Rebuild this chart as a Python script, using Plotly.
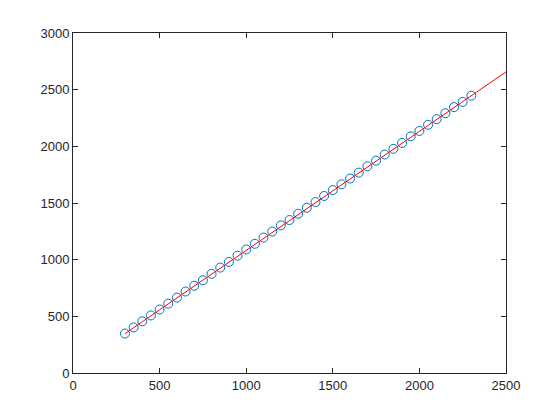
import plotly.graph_objects as go

# Measured data points
x_data = [300, 350, 400, 450, 500, 550, 600, 650, 700, 750,
          800, 850, 900, 950, 1000, 1050, 1100, 1150, 1200, 1250,
          1300, 1350, 1400, 1450, 1500, 1550, 1600, 1650, 1700, 1750,
          1800, 1850, 1900, 1950, 2000, 2050, 2100, 2150, 2200, 2250,
          2300]
y_data = [348, 402, 456, 508, 560, 612, 665, 719, 770, 818,
          875, 930, 980, 1035, 1090, 1140, 1195, 1248, 1303, 1350,
          1405, 1458, 1508, 1562, 1614, 1665, 1716, 1768, 1824, 1874,
          1928, 1978, 2030, 2088, 2136, 2190, 2240, 2292, 2346, 2392,
          2447]

# Fitted line endpoints
fit_x = [300, 2500]
fit_y = [347, 2657]

x_ticks = [0, 500, 1000, 1500, 2000, 2500]
y_ticks = [0, 500, 1000, 1500, 2000, 2500, 3000]

fig = go.Figure()
fig.add_trace(go.Scatter(
    x=x_data, y=y_data, mode="markers",
    marker=dict(symbol="circle-open", size=9, color="#0072BD", line=dict(width=1)),
    showlegend=False, cliponaxis=False))
fig.add_trace(go.Scatter(
    x=fit_x, y=fit_y, mode="lines",
    line=dict(color="#FF0000", width=1),
    showlegend=False))

axis_common = dict(
    showgrid=False, zeroline=False, showline=True, linecolor="#262626", linewidth=1,
    mirror="ticks", ticks="inside", ticklen=5, tickcolor="#262626", tickwidth=1,
    tickfont=dict(family="Liberation Sans, Arial, sans-serif", size=13, color="#262626"),
)
fig.update_xaxes(range=[0, 2500], tickvals=x_ticks, ticktext=[str(v) for v in x_ticks], **axis_common)
fig.update_yaxes(range=[0, 3000], tickvals=y_ticks, ticktext=[str(v) for v in y_ticks], **axis_common)

fig.update_layout(
    width=560, height=420,
    margin=dict(l=65, r=62, t=25, b=55),
    paper_bgcolor="white", plot_bgcolor="white",
)
fig.write_html("out.html")
